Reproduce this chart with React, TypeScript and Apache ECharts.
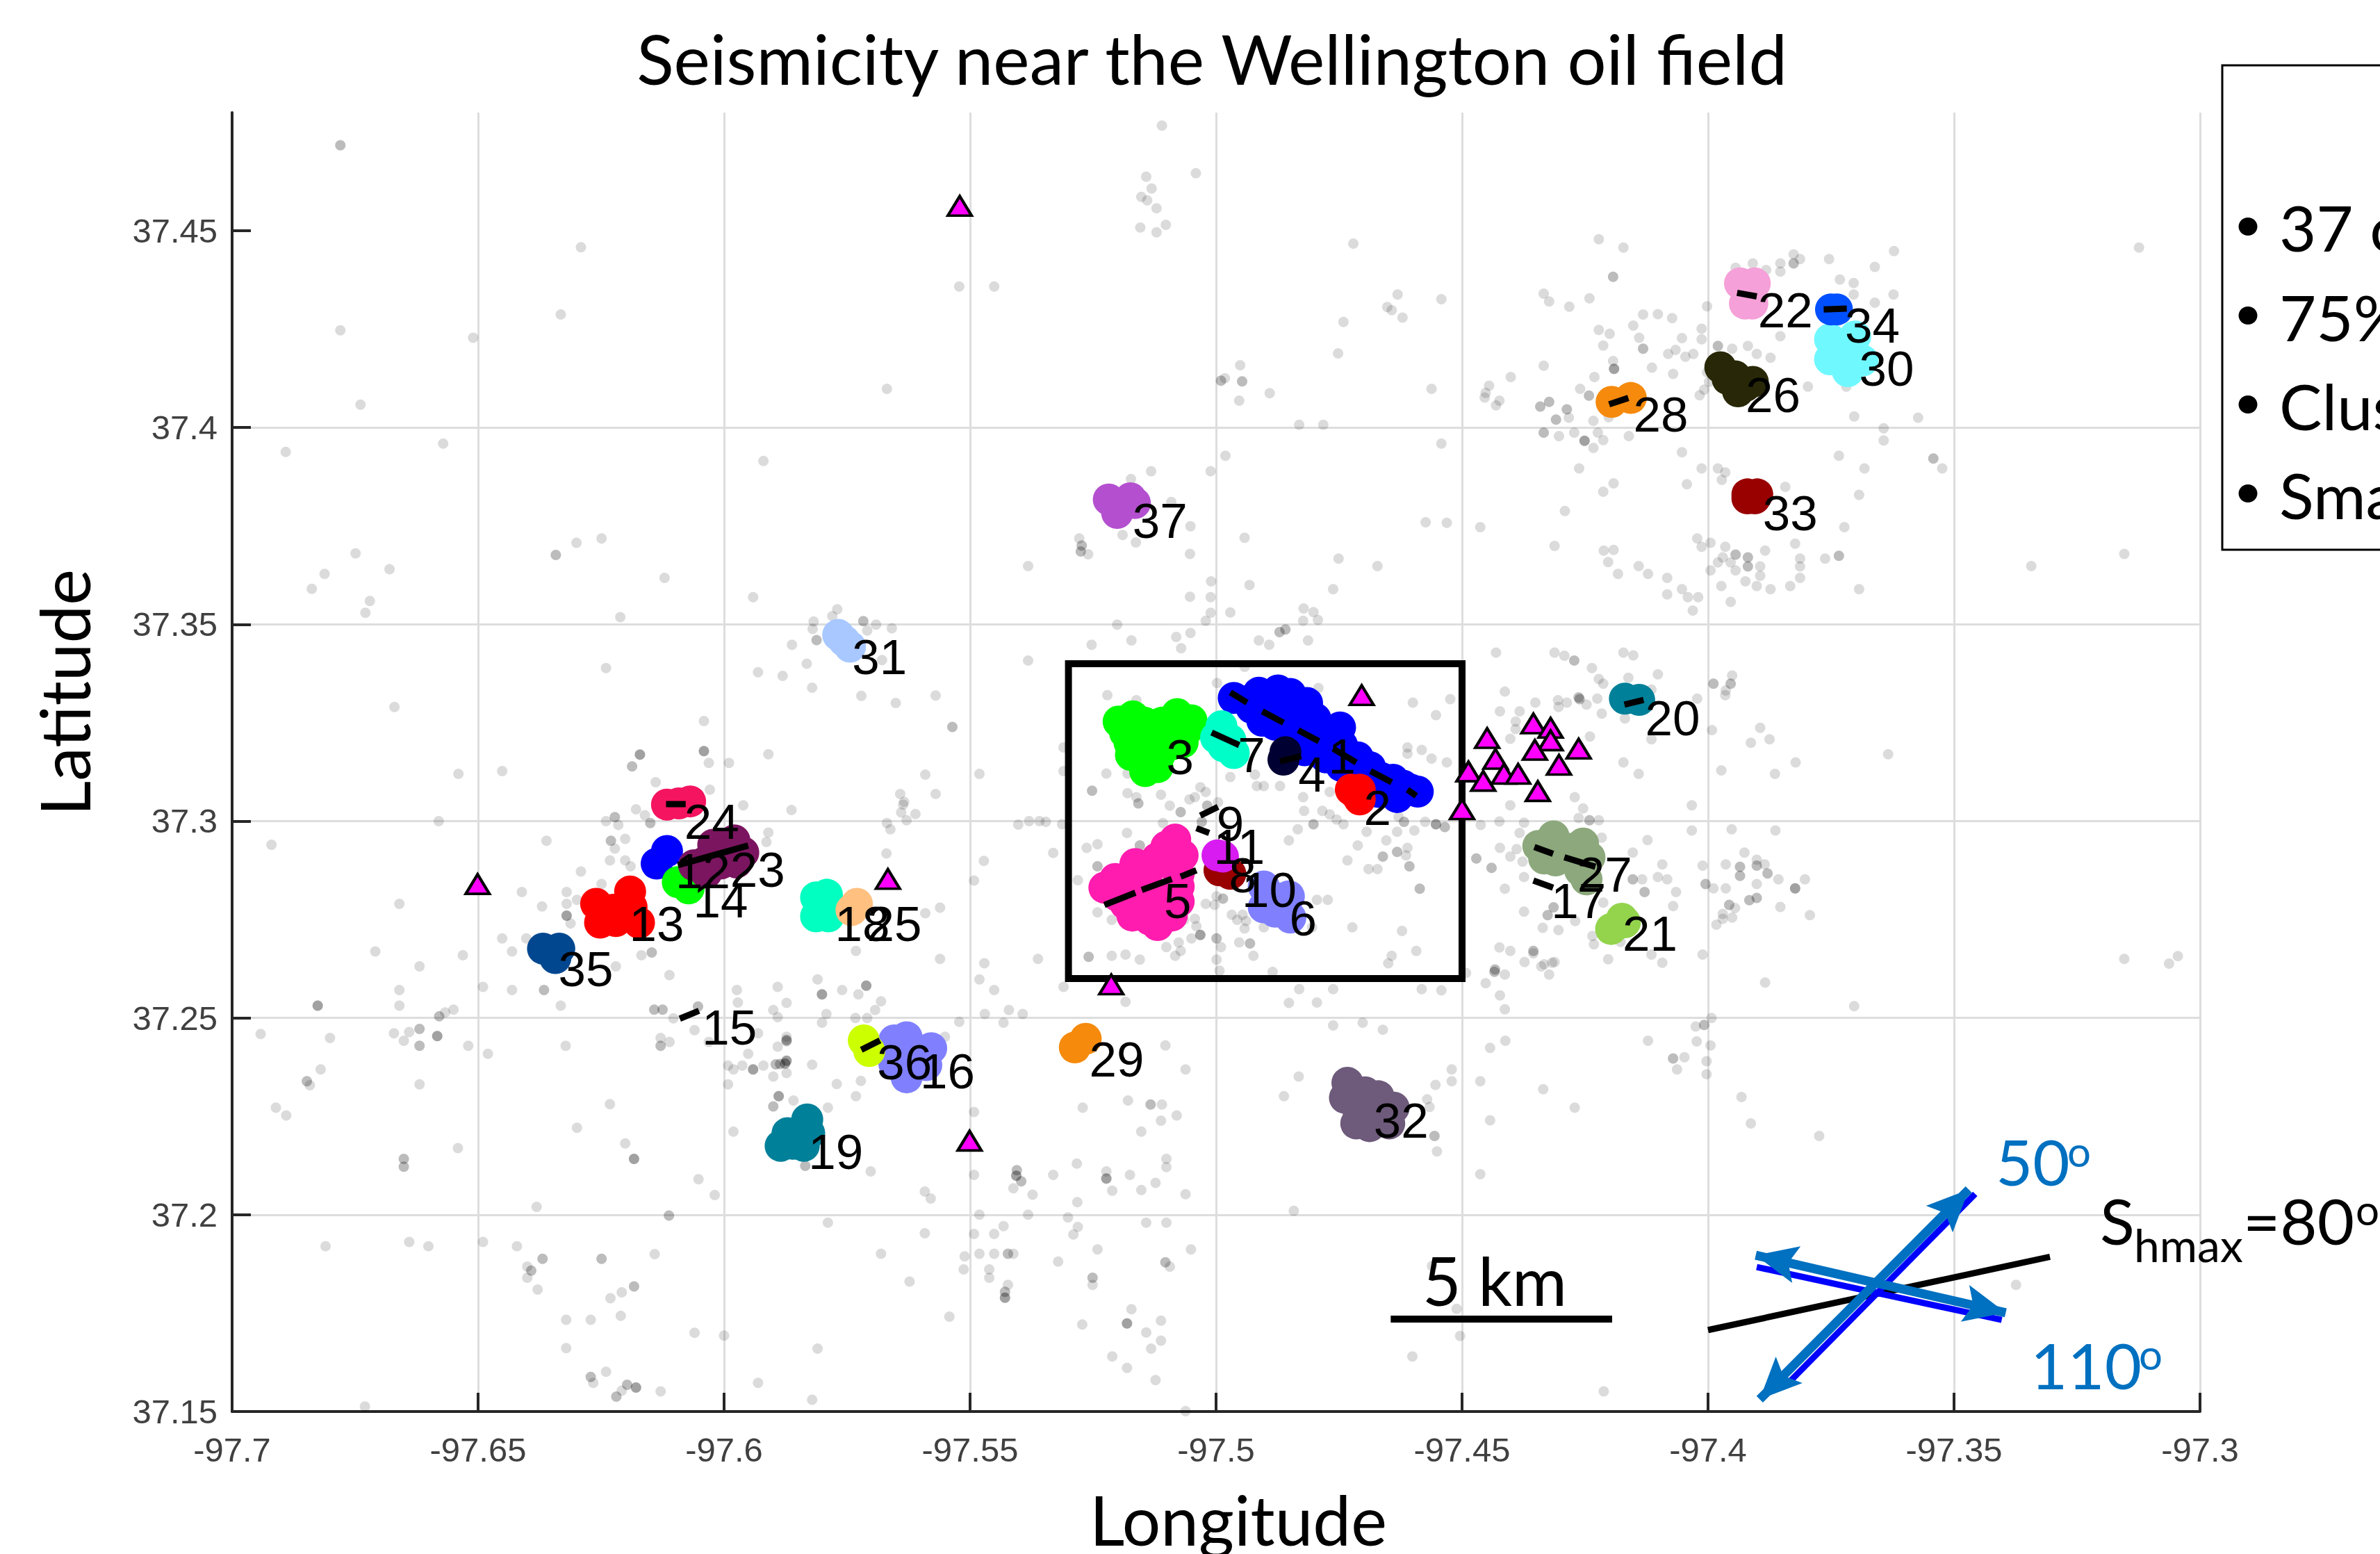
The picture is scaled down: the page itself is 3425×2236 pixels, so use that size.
import React, { useEffect, useRef } from "react";
import * as echarts from "echarts";

const latTicks = [37.15, 37.2, 37.25, 37.3, 37.35, 37.4, 37.45];
const lonMin = -97.7, lonMax = -97.3, latMin = 37.15, latMax = 37.48;

// background seismicity (lon, lat)
const eventsOnce: number[][] = [
[-97.6291,37.4458],[-97.6332,37.4287],[-97.678,37.4247],[-97.651,37.4228],[-97.5522,37.4358],[-97.5451,37.4358],[-97.6739,37.4058],[-97.5669,37.4098],[-97.6571,37.3959],[-97.6891,37.3938],[-97.592,37.3915],[-97.6749,37.368],[-97.6812,37.3628],[-97.668,37.364],[-97.6838,37.359],[-97.672,37.3559],[-97.6729,37.3529],[-97.63,37.3707],[-97.6249,37.3718],[-97.6121,37.3618],[-97.6211,37.3518],[-97.5941,37.3569],[-97.5818,37.3507],[-97.577,37.3538],[-97.578,37.3521],[-97.5691,37.3499],[-97.5659,37.349],[-97.582,37.3488],[-97.5862,37.3448],[-97.5709,37.3484],[-97.5679,37.3409],[-97.5832,37.34],[-97.5931,37.3378],[-97.5881,37.3369],[-97.5821,37.3339],[-97.5721,37.3318],[-97.5651,37.33],[-97.557,37.3319],[-97.624,37.3389],[-97.667,37.329],[-97.6041,37.3254],[-97.6031,37.3148],[-97.599,37.3148],[-97.591,37.317],[-97.654,37.312],[-97.6451,37.3127],[-97.6139,37.3099],[-97.6029,37.308],[-97.5591,37.3118],[-97.5481,37.312],[-97.5642,37.3069],[-97.557,37.3069],[-97.5634,37.3049],
[-97.511,37.4767],[-97.5041,37.4646],[-97.5142,37.4637],[-97.5131,37.4607],[-97.5152,37.4586],[-97.514,37.4577],[-97.5121,37.4557],[-97.5154,37.4508],[-97.5121,37.4496],[-97.5102,37.4515],[-97.4721,37.4467],[-97.545,37.4358],[-97.4631,37.4338],[-97.4542,37.4326],[-97.4652,37.4306],[-97.4643,37.4298],[-97.4621,37.4279],[-97.4741,37.4268],[-97.4752,37.4188],[-97.4951,37.4158],[-97.4982,37.4125],[-97.4891,37.4087],[-97.4953,37.4068],[-97.4831,37.4007],[-97.4782,37.4007],[-97.4542,37.3959],[-97.4981,37.3928],[-97.5011,37.3889],[-97.5132,37.3889],[-97.5173,37.3869],[-97.5091,37.3811],[-97.5052,37.3749],[-97.519,37.3727],[-97.5163,37.3708],[-97.4942,37.372],[-97.5278,37.3718],[-97.526,37.3678],[-97.5053,37.3679],[-97.5382,37.3648],[-97.4574,37.3759],[-97.4531,37.3758],[-97.4463,37.3747],[-97.4751,37.3667],[-97.4672,37.3648],[-97.4932,37.36],[-97.501,37.3609],[-97.4762,37.3589],[-97.5011,37.3569],[-97.5053,37.357],[-97.5011,37.3529],[-97.4971,37.353],[-97.5021,37.3509],[-97.4822,37.354],[-97.4802,37.3531],[-97.4823,37.3509],[-97.4793,37.3511],[-97.5201,37.3499],[-97.5172,37.3459],[-97.5253,37.3448],[-97.5081,37.3468],[-97.5052,37.3478],[-97.5071,37.3439],[-97.4859,37.3489],[-97.4913,37.3459],[-97.4892,37.3448],[-97.4813,37.3459],[-97.5382,37.3408],
[-97.4222,37.4478],[-97.4172,37.4457],[-97.4334,37.434],[-97.4323,37.432],[-97.4282,37.4307],[-97.4241,37.4328],[-97.4132,37.4287],[-97.4102,37.4288],[-97.4152,37.4259],[-97.4222,37.4248],[-97.42,37.4238],[-97.414,37.4228],[-97.4213,37.4208],[-97.4334,37.4157],[-97.4193,37.4169],[-97.4114,37.4152],[-97.4231,37.4128],[-97.4401,37.4128],[-97.4562,37.4098],[-97.4445,37.4106],[-97.4452,37.4088],[-97.4454,37.4076],[-97.4424,37.4068],[-97.4431,37.4056],[-97.426,37.4098],[-97.4283,37.4025],[-97.4233,37.4017],[-97.4202,37.4026],[-97.4303,37.3978],[-97.4272,37.3987],[-97.4224,37.3987],[-97.4213,37.3968],[-97.4233,37.3948],[-97.4161,37.3978],[-97.4262,37.3896],[-97.4192,37.3858],[-97.4213,37.3837],[-97.4291,37.3788],[-97.4312,37.3699],[-97.4212,37.3687],[-97.4192,37.3689],[-97.4203,37.3658],[-97.4141,37.3648],[-97.4122,37.3628],[-97.4183,37.3628],[-97.4431,37.3428],[-97.4312,37.3428],[-97.4292,37.342],[-97.4172,37.3428],[-97.4152,37.3421],
[-97.3622,37.4448],[-97.3909,37.4417],[-97.3826,37.444],[-97.3813,37.4428],[-97.3853,37.4417],[-97.3853,37.4396],[-97.3882,37.44],[-97.3754,37.4428],[-97.3661,37.4408],[-97.3944,37.4406],[-97.3732,37.4376],[-97.3704,37.4367],[-97.3623,37.4338],[-97.3704,37.4338],[-97.3661,37.4317],[-97.4002,37.4308],[-97.4103,37.4287],[-97.4073,37.4278],[-97.4013,37.4251],[-97.4053,37.4227],[-97.3853,37.4232],[-97.4013,37.4224],[-97.3919,37.4207],[-97.3951,37.42],[-97.4066,37.4197],[-97.4081,37.4187],[-97.4046,37.418],[-97.403,37.4187],[-97.3901,37.4187],[-97.3873,37.4177],[-97.4115,37.4153],[-97.4071,37.4136],[-97.4002,37.414],[-97.3998,37.4116],[-97.4008,37.4096],[-97.4017,37.4082],[-97.3797,37.4104],[-97.3719,37.4104],[-97.3703,37.4028],[-97.3573,37.4025],[-97.3643,37.3998],[-97.3643,37.3967],[-97.4053,37.3937],[-97.3734,37.3928],[-97.4013,37.3896],[-97.398,37.3896],[-97.3965,37.3886],[-97.3682,37.3896],[-97.3524,37.3896],[-97.3972,37.3867],[-97.3843,37.3849],[-97.4043,37.3856],[-97.3693,37.3829],[-97.3723,37.3747],[-97.4022,37.3718],[-97.3995,37.3707],[-97.4013,37.3697],[-97.3965,37.3697],[-97.3823,37.3705],[-97.3884,37.3687],[-97.397,37.367],[-97.398,37.3657],[-97.3954,37.3657],[-97.3894,37.3647],[-97.3813,37.3667],[-97.3813,37.3647],[-97.3762,37.3667],[-97.3995,37.3637],[-97.3944,37.3637],[-97.3894,37.3623],[-97.3924,37.3609],[-97.3973,37.3597],[-97.3901,37.3597],[-97.3873,37.3589],[-97.3833,37.3597],[-97.3813,37.3618],[-97.3693,37.3589],[-97.4083,37.3618],[-97.4083,37.3576],[-97.4053,37.3589],[-97.4041,37.3569],[-97.402,37.3569],[-97.4031,37.3535],[-97.3954,37.3557],[-97.3124,37.4457],[-97.3343,37.3648],[-97.3154,37.3679],
[-97.5199,37.3493],[-97.5252,37.3449],[-97.5173,37.3458],[-97.5083,37.3468],[-97.4942,37.3392],[-97.4998,37.3351],[-97.5221,37.332],[-97.5162,37.3307],[-97.4792,37.3338],[-97.4413,37.3329],[-97.46,37.3301],[-97.4524,37.331],[-97.4553,37.3269],[-97.4351,37.3301],[-97.4423,37.3279],[-97.4402,37.3209],[-97.4391,37.3253],[-97.4391,37.3234],[-97.4287,37.3301],[-97.4305,37.3307],[-97.4236,37.3389],[-97.424,37.3215],[-97.531,37.3187],[-97.4611,37.3187],[-97.4582,37.3181],[-97.4611,37.3171],[-97.4562,37.3159],[-97.4531,37.3149],[-97.5223,37.3121],[-97.518,37.3121],[-97.4921,37.3118],[-97.4917,37.3089],[-97.4903,37.3089],[-97.487,37.3089],[-97.4971,37.3112],[-97.518,37.3071],[-97.5162,37.3061],[-97.5112,37.3067],[-97.531,37.3127],[-97.5032,37.3086],[-97.5021,37.3074],[-97.5043,37.3061],[-97.5054,37.3055],[-97.5094,37.3039],[-97.4996,37.3048],[-97.5108,37.2995],[-97.5346,37.2998],[-97.5313,37.2992],[-97.4823,37.3061],[-97.4821,37.3026],[-97.4769,37.3074],[-97.4784,37.3026],[-97.4769,37.3017],[-97.4755,37.3004],[-97.4834,37.2979],[-97.4852,37.2951],[-97.4741,37.2992],[-97.4694,37.2973],[-97.4629,37.3011],[-97.4575,37.2998],[-97.4597,37.2976],[-97.4632,37.2973],[-97.4654,37.2951],[-97.4712,37.2938],[-97.4733,37.29],[-97.4611,37.2932],[-97.4614,37.2913],[-97.469,37.2878],[-97.4672,37.2878],[-97.447,37.291],[-97.4438,37.2881],[-97.4402,37.291],[-97.4423,37.2932],[-97.4377,37.2897],[-97.4413,37.2828],[-97.5331,37.2919],[-97.5263,37.2932],[-97.5241,37.2941],[-97.5181,37.297],[-97.5281,37.285],[-97.4999,37.2809],[-97.5021,37.279],[-97.5003,37.2787],[-97.5241,37.2768],[-97.5212,37.2749],[-97.5166,37.2736],[-97.5043,37.2752],[-97.5065,37.2749],[-97.504,37.2733],[-97.4968,37.2762],[-97.4946,37.2762],[-97.4957,37.2749],[-97.4939,37.2746],[-97.4903,37.273],[-97.4942,37.2727],[-97.4795,37.28],[-97.4773,37.28],[-97.4805,37.273],[-97.4723,37.273],[-97.4622,37.2721],[-97.505,37.2702],[-97.5076,37.2692],[-97.5101,37.268],[-97.5072,37.267],[-97.499,37.268],[-97.5083,37.2658],[-97.4953,37.2692],[-97.4924,37.2658],[-97.5212,37.2658],[-97.5184,37.2661],[-97.5155,37.2648],[-97.4999,37.2648],[-97.4643,37.2658],[-97.465,37.2639],[-97.4593,37.267],[-97.4452,37.2588],[-97.4413,37.261],[-97.4373,37.2642],[-97.4355,37.2664],[-97.4333,37.2636],[-97.4312,37.2642],[-97.4323,37.261],[-97.4423,37.2557],[-97.4413,37.2522],[-97.4492,37.2614],[-97.5184,37.2541],[-97.531,37.2579],[-97.4852,37.2538],[-97.4795,37.2539],[-97.4762,37.2573],[-97.4542,37.257],[-97.4582,37.2573],[-97.4885,37.2617],[-97.4993,37.262],[-97.4831,37.2573],
[-97.3951,37.337],[-97.3964,37.3332],[-97.3965,37.332],[-97.4022,37.3311],[-97.4102,37.3373],[-97.4162,37.3364],[-97.4222,37.3361],[-97.4213,37.3349],[-97.4115,37.3334],[-97.4288,37.3305],[-97.4247,37.3296],[-97.4304,37.329],[-97.4225,37.3311],[-97.4216,37.3273],[-97.4169,37.3261],[-97.4115,37.3208],[-97.4241,37.322],[-97.4383,37.3279],[-97.4392,37.3252],[-97.4172,37.3149],[-97.4141,37.312],[-97.4271,37.3061],[-97.4402,37.304],[-97.4033,37.304],[-97.3894,37.3237],[-97.3875,37.3208],[-97.3913,37.3199],[-97.3992,37.3231],[-97.3634,37.317],[-97.3822,37.3149],[-97.3973,37.3129],[-97.3864,37.312],[-97.4254,37.3032],[-97.4263,37.3008],[-97.4222,37.3002],[-97.4462,37.299],[-97.4424,37.2999],[-97.4374,37.2996],[-97.4033,37.2976],[-97.3952,37.2979],[-97.3863,37.2976],[-97.4383,37.297],[-97.4216,37.2958],[-97.4123,37.2952],[-97.4424,37.2931],[-97.4153,37.292],[-97.4389,37.2929],[-97.4402,37.2908],[-97.4093,37.289],[-97.4374,37.2858],[-97.4411,37.2829],[-97.4134,37.2852],[-97.4102,37.2858],[-97.4083,37.2852],[-97.4011,37.2887],[-97.3964,37.289],[-97.3926,37.292],[-97.3901,37.2902],[-97.3885,37.289],[-97.3857,37.2852],[-97.3803,37.2852],[-97.3901,37.284],[-97.3989,37.2829],[-97.3964,37.2829],[-97.3945,37.2779],[-97.397,37.2764],[-97.3951,37.2755],[-97.397,37.2752],[-97.3983,37.2737],[-97.3853,37.2782],[-97.3793,37.2761],[-97.4065,37.282],[-97.4071,37.2784],[-97.4213,37.2793],[-97.4374,37.277],[-97.427,37.2746],[-97.4336,37.2729],[-97.4304,37.2723],[-97.4235,37.2708],[-97.4178,37.2693],[-97.4232,37.2687],[-97.4424,37.2679],[-97.4402,37.267],[-97.4374,37.2643],[-97.4317,37.264],[-97.4339,37.2631],[-97.4203,37.2649],[-97.4115,37.2661],[-97.4093,37.264],[-97.4011,37.2661],
[-97.3884,37.259],[-97.3154,37.265],[-97.3063,37.2638],[-97.3045,37.2657],[-97.3703,37.253],[-97.4453,37.259],[-97.4543,37.2571],[-97.4422,37.2558],[-97.4412,37.2519],[-97.3993,37.25],[-97.4025,37.2478],[-97.4412,37.2442],[-97.4443,37.2424],[-97.4122,37.2442],[-97.4023,37.244],[-97.3995,37.243],[-97.4048,37.24],[-97.4063,37.2369],[-97.4003,37.239],[-97.4003,37.2357],[-97.4521,37.2369],[-97.4521,37.2339],[-97.4554,37.233],[-97.4463,37.2339],[-97.4335,37.2319],[-97.4271,37.2272],[-97.3932,37.2299],[-97.3913,37.2232],[-97.4443,37.224],[-97.3774,37.22],[-97.4551,37.2161],[-97.4463,37.2103],[-97.4566,37.2274],[-97.3374,37.1822],[-97.4511,37.1761],[-97.4504,37.1692],[-97.4212,37.1551],[-97.4561,37.187],
[-97.581,37.2598],[-97.576,37.2571],[-97.5727,37.256],[-97.5891,37.2579],[-97.5873,37.2538],[-97.5681,37.2542],[-97.5693,37.252],[-97.59,37.252],[-97.5891,37.2502],[-97.5792,37.251],[-97.5801,37.2488],[-97.5733,37.25],[-97.5709,37.25],[-97.5522,37.249],[-97.5481,37.2598],[-97.5451,37.2571],[-97.547,37.251],[-97.5421,37.252],[-97.5393,37.251],[-97.5432,37.2488],[-97.5182,37.2538],[-97.4851,37.2538],[-97.4792,37.2538],[-97.4762,37.2481],[-97.4702,37.2488],[-97.4661,37.247],[-97.5551,37.2452],[-97.5873,37.2452],[-97.5891,37.2427],[-97.5103,37.243],[-97.5821,37.2381],[-97.59,37.2351],[-97.5873,37.236],[-97.5771,37.2332],[-97.5722,37.234],[-97.5062,37.2369],[-97.4832,37.2351],[-97.4522,37.234],[-97.4553,37.2331],[-97.4862,37.2301],[-97.4571,37.2293],[-97.4562,37.2272],[-97.5732,37.2301],[-97.5859,37.229],[-97.5789,37.2272],[-97.5492,37.2261],[-97.5179,37.229],[-97.5271,37.2272],[-97.511,37.228],[-97.5112,37.2239],[-97.508,37.2252],[-97.5152,37.2211],[-97.4553,37.2162],[-97.5702,37.211],[-97.5492,37.2101],[-97.5412,37.2067],[-97.5331,37.2101],[-97.5283,37.213],[-97.5223,37.211],[-97.5175,37.2101],[-97.5101,37.2142],[-97.5101,37.2121],[-97.5123,37.2081],[-97.5152,37.2063],[-97.5062,37.2052],[-97.5211,37.2061],[-97.5373,37.2051],[-97.5592,37.2059],[-97.558,37.2041],[-97.5282,37.2032],[-97.4842,37.201],[-97.5481,37.2],[-97.5382,37.2],[-97.5301,37.1993],[-97.5789,37.198],[-97.5142,37.198],[-97.5101,37.198],[-97.5281,37.1969],[-97.5432,37.1971],[-97.529,37.195],[-97.5592,37.1953],[-97.5492,37.1951],[-97.5451,37.1951],[-97.5051,37.1912],[-97.5241,37.1912],[-97.5681,37.1901],[-97.5511,37.1894],[-97.5481,37.1901],[-97.5451,37.1901],[-97.5412,37.1901],[-97.5321,37.1881],[-97.5094,37.1868],[-97.5513,37.1861],[-97.5461,37.1861],[-97.5461,37.184],[-97.5251,37.1822],[-97.5623,37.183],[-97.5423,37.1822],[-97.5542,37.1741],[-97.5172,37.176],[-97.5112,37.1731],[-97.5272,37.1721],[-97.5142,37.1701],[-97.5112,37.168],[-97.5132,37.166],[-97.581,37.166],[-97.5211,37.164],[-97.5181,37.1611],[-97.5123,37.158],[-97.5821,37.153],[-97.5062,37.1501],[-97.4601,37.164],[-97.4513,37.1763],[-97.4508,37.1688],
[-97.658,37.3],[-97.692,37.294],[-97.6361,37.295],[-97.624,37.3],[-97.6215,37.299],[-97.6179,37.303],[-97.6161,37.3015],[-97.6201,37.2955],[-97.6222,37.293],[-97.6232,37.29],[-97.6201,37.29],[-97.619,37.2885],[-97.6291,37.2872],[-97.6249,37.284],[-97.632,37.282],[-97.6411,37.282],[-97.637,37.2783],[-97.632,37.279],[-97.6299,37.28],[-97.6312,37.274],[-97.666,37.279],[-97.6709,37.2669],[-97.6531,37.2659],[-97.6619,37.2631],[-97.6451,37.2702],[-97.6431,37.2669],[-97.6402,37.2702],[-97.6168,37.2659],[-97.622,37.2631],[-97.6111,37.2609],[-97.666,37.2571],[-97.649,37.2579],[-97.6431,37.2571],[-97.666,37.2531],[-97.6332,37.2531],[-97.655,37.2521],[-97.6567,37.2514],[-97.6103,37.2499],[-97.6942,37.2459],[-97.6801,37.2449],[-97.6671,37.2461],[-97.664,37.2464],[-97.6651,37.2442],[-97.652,37.2429],[-97.648,37.2409],[-97.6322,37.2429],[-97.6129,37.2449],[-97.6111,37.2439],[-97.606,37.2469],[-97.6031,37.2439],[-97.5974,37.2571],[-97.5972,37.2539],[-97.5889,37.2579],[-97.5898,37.2519],[-97.5931,37.2461],[-97.5889,37.2429],[-97.5951,37.2409],[-97.5992,37.2379],[-97.5981,37.2369],[-97.5963,37.2379],[-97.592,37.2379],[-97.5876,37.2359],[-97.59,37.2349],[-97.5992,37.2331],[-97.682,37.2369],[-97.6842,37.2329],[-97.6619,37.2331],[-97.6911,37.2272],[-97.689,37.2252],[-97.6232,37.2281],[-97.6299,37.2221],[-97.6201,37.2181],[-97.5981,37.2211],[-97.6541,37.2169],[-97.6052,37.209],[-97.6019,37.205],[-97.6381,37.202],[-97.649,37.1931],[-97.681,37.192],[-97.664,37.1931],[-97.6601,37.192],[-97.6421,37.192],[-97.64,37.1868],[-97.64,37.184],[-97.6379,37.181],[-97.6141,37.19],[-97.6208,37.1803],[-97.6231,37.1788],[-97.621,37.1743],[-97.6321,37.1733],[-97.6271,37.1733],[-97.606,37.17],[-97.6,37.1693],[-97.6321,37.1661],[-97.6266,37.1573],[-97.624,37.1601],[-97.6208,37.1553],[-97.6129,37.1551],[-97.5931,37.1573],[-97.673,37.1513],
[-97.5636,37.3042],[-97.5611,37.3018],[-97.564,37.3022],[-97.5669,37.2995],[-97.5662,37.2979],[-97.5629,37.3002],[-97.5402,37.2991],[-97.538,37.3],[-97.5359,37.3],[-97.5863,37.3028],[-97.5961,37.304],[-97.591,37.2971],[-97.5914,37.2947],[-97.567,37.2918],[-97.5472,37.2899],[-97.5492,37.2849],[-97.5591,37.2766],[-97.5561,37.278],[-97.5732,37.267],[-97.5561,37.265],[-97.5471,37.2639],[-97.5481,37.2601],[-97.545,37.2571],[-97.5362,37.265],[-97.5471,37.2508],[-97.5424,37.2518],[-97.5391,37.2508],[-97.573,37.2506]
];
const eventsTwice: number[][] = [
[-97.678,37.4717],[-97.6342,37.3676],[-97.5717,37.3508],[-97.5812,37.346],[-97.5536,37.3239],[-97.6187,37.3139],
[-97.499,37.4119],[-97.4947,37.4117],[-97.5273,37.37],[-97.5275,37.3685],[-97.4871,37.348],[-97.4272,37.3408],[-97.4193,37.4383],[-97.4132,37.42],[-97.4242,37.4081],[-97.4323,37.4065],[-97.4341,37.4053],[-97.4287,37.4046],[-97.4309,37.402],[-97.4334,37.3987],
[-97.3826,37.4417],[-97.398,37.4207],[-97.3542,37.3921],[-97.3944,37.3677],[-97.3919,37.367],[-97.3919,37.3647],[-97.3734,37.3674],
[-97.4859,37.3487],[-97.4261,37.331],[-97.5252,37.3077],[-97.5158,37.3045],[-97.5072,37.3023],[-97.5018,37.3039],[-97.5029,37.2998],[-97.4618,37.2998],[-97.4535,37.2985],[-97.4802,37.2992],[-97.4632,37.2922],[-97.4661,37.291],[-97.4607,37.2885],[-97.4586,37.2828],[-97.5155,37.2938],[-97.5241,37.2885],[-97.4986,37.2803],[-97.4999,37.2702],[-97.4931,37.2689],[-97.5259,37.2655],[-97.4434,37.2617],
[-97.3954,37.3349],[-97.3989,37.3349],[-97.4263,37.3314],[-97.4241,37.3002],[-97.4471,37.2905],[-97.444,37.2881],[-97.4153,37.2852],[-97.3935,37.2884],[-97.3901,37.2887],[-97.3935,37.2861],[-97.3879,37.2867],[-97.4005,37.284],[-97.3901,37.2805],[-97.3916,37.2799],[-97.3957,37.2787],[-97.4129,37.282],[-97.4314,37.2781],[-97.4326,37.2761],[-97.4355,37.267],[-97.4433,37.2623],
[-97.4008,37.2482],[-97.4071,37.2397],[-97.4556,37.22],
[-97.5873,37.2441],[-97.5886,37.2383],[-97.59,37.2275],[-97.5133,37.228],[-97.5835,37.2124],[-97.5405,37.2113],[-97.5396,37.2085],[-97.5103,37.1879],[-97.5423,37.1901],[-97.5251,37.184],[-97.5429,37.1804],
[-97.6222,37.301],[-97.615,37.2995],[-97.623,37.295],[-97.6147,37.2666],[-97.6366,37.2571],[-97.6579,37.2504],[-97.6142,37.2521],[-97.6125,37.2521],[-97.6053,37.2529],[-97.6619,37.2472],[-97.6619,37.2429],[-97.6129,37.2429],[-97.5873,37.2444],[-97.5895,37.2382],[-97.6848,37.2339],[-97.6651,37.2142],[-97.6651,37.2122],[-97.6112,37.1998],[-97.6369,37.1888],[-97.6392,37.1858],[-97.6249,37.1888],[-97.6183,37.1818],[-97.6271,37.1588],[-97.6197,37.1568],[-97.6219,37.1538]
];
const eventsThrice: number[][] = [
[-97.6041,37.3178],[-97.6171,37.3169],[-97.4191,37.4149],[-97.4251,37.3966],[-97.4553,37.2992],[-97.5032,37.2711],[-97.3823,37.2829],
[-97.5711,37.2582],[-97.5801,37.256],[-97.5873,37.2391],[-97.5889,37.2301],[-97.5406,37.2099],[-97.5223,37.2092],[-97.5429,37.1789],[-97.5181,37.1724],
[-97.632,37.276],[-97.6826,37.2531],[-97.6583,37.2454],[-97.5941,37.2369],[-97.5876,37.2384],[-97.6183,37.2142],[-97.6179,37.1561]
];

// one list per numbered cluster: epicentres
const c1 = [[-97.4964,37.3313],[-97.4913,37.3326],[-97.4874,37.3332],[-97.4849,37.3323],[-97.4877,37.3288],[-97.4928,37.3288],[-97.4834,37.3279],[-97.4798,37.326],[-97.4748,37.3238],[-97.4856,37.3244],[-97.4791,37.3212],[-97.4744,37.3193],[-97.4777,37.3162],[-97.4712,37.3162],[-97.4687,37.3137],[-97.464,37.3105],[-97.4604,37.308],[-97.4632,37.3061],[-97.4669,37.3074],[-97.4938,37.3305],[-97.49,37.3305],[-97.486,37.3305],[-97.4815,37.33],[-97.4906,37.3255],[-97.488,37.3245],[-97.4825,37.3245],[-97.479,37.3235],[-97.484,37.3215],[-97.482,37.318],[-97.476,37.3215],[-97.477,37.3185],[-97.474,37.3165],[-97.4745,37.314],[-97.47,37.3135],[-97.4665,37.311],[-97.462,37.309],[-97.459,37.3075],[-97.465,37.3085]];
const c2 = [[-97.4726,37.308],[-97.4708,37.308],[-97.4708,37.3055],[-97.4715,37.3068]];
const c3 = [[-97.5198,37.3253],[-97.5169,37.3266],[-97.5079,37.3272],[-97.505,37.3256],[-97.5137,37.3231],[-97.5079,37.3219],[-97.5176,37.32],[-97.5068,37.32],[-97.5144,37.3127],[-97.5119,37.3137],[-97.5173,37.3168],[-97.5115,37.3168],[-97.5145,37.325],[-97.511,37.325],[-97.515,37.32],[-97.511,37.3195],[-97.5145,37.3165],[-97.509,37.3195],[-97.5185,37.3225],[-97.506,37.323]];
const c4 = [[-97.4859,37.3175],[-97.4863,37.3156]];
const c5 = [[-97.5083,37.2953],[-97.5101,37.2935],[-97.5164,37.2891],[-97.5068,37.2913],[-97.5205,37.2853],[-97.5227,37.2831],[-97.5137,37.2875],[-97.5076,37.2866],[-97.5184,37.279],[-97.5076,37.2796],[-97.5119,37.2736],[-97.5115,37.2771],[-97.5137,37.2822],[-97.5076,37.2834],[-97.515,37.285],[-97.512,37.2905],[-97.5095,37.29],[-97.5185,37.285],[-97.52,37.281],[-97.515,37.279],[-97.511,37.281],[-97.5135,37.275],[-97.509,37.276],[-97.517,37.276]];
const c6 = [[-97.4849,37.2755],[-97.4852,37.2809],[-97.488,37.277]];
const c7 = [[-97.4989,37.3241],[-97.5,37.3212],[-97.4971,37.3206],[-97.4964,37.3173],[-97.4985,37.319]];
const c8 = [[-97.4993,37.2875],[-97.4971,37.2866]];
const c10 = [[-97.4903,37.2834],[-97.4903,37.2781],[-97.488,37.2805]];
const c11 = [[-97.4997,37.2913],[-97.4986,37.291]];
const c12 = [[-97.6116,37.2924],[-97.6137,37.2892]];
const c13 = [[-97.626,37.279],[-97.6191,37.2821],[-97.6252,37.2742],[-97.6188,37.2782],[-97.6173,37.2742],[-97.622,37.2746],[-97.6225,37.2775],[-97.6205,37.276]];
const c14 = [[-97.6094,37.2845],[-97.6072,37.2829]];
const c16 = [[-97.5654,37.2443],[-97.5629,37.2451],[-97.5579,37.2423],[-97.5654,37.2384],[-97.5629,37.2349],[-97.5589,37.238],[-97.562,37.241],[-97.559,37.241],[-97.5635,37.239],[-97.5605,37.2385]];
const c18 = [[-97.5813,37.2806],[-97.5791,37.2813],[-97.5813,37.2758],[-97.5788,37.2758],[-97.58,37.2785]];
const c19 = [[-97.5831,37.2242],[-97.5871,37.2207],[-97.5885,37.2175],[-97.5838,37.2175],[-97.5827,37.2207],[-97.585,37.2195],[-97.586,37.218]];
const c20 = [[-97.4169,37.3311],[-97.414,37.3308]];
const c21 = [[-97.4175,37.2752],[-97.4197,37.2726],[-97.4169,37.2743]];
const c22 = [[-97.3935,37.4366],[-97.3905,37.4366],[-97.3925,37.4315],[-97.391,37.4315],[-97.3919,37.434]];
const c23 = [[-97.5979,37.2951],[-97.6022,37.294],[-97.5961,37.292],[-97.6061,37.2888],[-97.6007,37.2892],[-97.6036,37.2869],[-97.5995,37.292],[-97.604,37.2895],[-97.5975,37.2895]];
const c24 = [[-97.6116,37.3042],[-97.6069,37.305],[-97.6092,37.3045]];
const c25 = [[-97.573,37.279],[-97.5741,37.2774]];
const c26 = [[-97.3975,37.4153],[-97.3909,37.4116],[-97.3939,37.4092],[-97.396,37.4123],[-97.3945,37.413],[-97.3925,37.4105]];
const c27 = [[-97.4314,37.2961],[-97.4254,37.2943],[-97.4345,37.2937],[-97.4241,37.2908],[-97.4333,37.2905],[-97.4273,37.2902],[-97.4247,37.2852],[-97.43,37.293],[-97.4275,37.293],[-97.431,37.29],[-97.426,37.2875]];
const c28 = [[-97.4196,37.4065],[-97.4157,37.4075]];
const c29 = [[-97.5287,37.2425],[-97.5265,37.2447]];
const c30 = [[-97.3752,37.4224],[-97.3701,37.4231],[-97.3752,37.4173],[-97.3686,37.417],[-97.3716,37.4143],[-97.3725,37.4195]];
const c31 = [[-97.5768,37.3473],[-97.5744,37.3443],[-97.5756,37.3458]];
const c32 = [[-97.4733,37.2335],[-97.4738,37.2297],[-97.4697,37.2311],[-97.467,37.2301],[-97.4639,37.2272],[-97.4715,37.2232],[-97.4688,37.2225],[-97.4648,37.2232],[-97.4711,37.2268],[-97.467,37.2261],[-97.47,37.228],[-97.471,37.225]];
const c33 = [[-97.392,37.383],[-97.39,37.383],[-97.392,37.382],[-97.3905,37.382]];
const c34 = [[-97.375,37.43],[-97.3738,37.43]];
const c35 = [[-97.6368,37.2676],[-97.6335,37.2676],[-97.6343,37.2652]];
const c36 = [[-97.5716,37.2443],[-97.5705,37.2416]];
const c37 = [[-97.5218,37.3817],[-97.5174,37.382],[-97.5201,37.3783],[-97.5165,37.3808]];

const clusterPoints = [c1,c2,c3,c4,c5,c6,c7,c8,c10,c11,c12,c13,c14,c16,c18,c19,c20,c21,c22,c23,c24,c25,c26,c27,c28,c29,c30,c31,c32,c33,c34,c35,c36,c37];
const clusterColors = ["#0000FF","#FF0000","#00FF00","#000033","#FF1CAE","#8080FF","#00FFC8","#990000","#8080FF","#D81BF0","#0000FF","#FF0000","#00FF00","#8080FF","#00FFC0","#008099","#008099","#93D44C","#F5A0D8","#7B1560","#F5145F","#FFC080","#282808","#8CA87C","#F58A0C","#F58A0C","#70F8FF","#A8C8FF","#6E5A7A","#990000","#0050FF","#004790","#CCFF00","#B450D0"];

// cluster number labels: [lon, lat, text]
const clusterLabels: (number | string)[][] = [
[-97.4744,37.3165,"1"],[-97.4672,37.3033,"2"],[-97.5073,37.3162,"3"],[-97.4805,37.3118,"4"],[-97.5078,37.2796,"5"],[-97.4823,37.2752,"6"],[-97.4928,37.3168,"7"],[-97.4946,37.2863,"8"],[-97.4971,37.2992,"9"],[-97.4892,37.2825,"10"],[-97.4953,37.2935,"11"],[-97.6043,37.2872,"12"],[-97.6137,37.2739,"13"],[-97.6007,37.2798,"14"],[-97.5989,37.2475,"15"],[-97.5546,37.2364,"16"],[-97.4263,37.2796,"17"],[-97.5719,37.2739,"18"],[-97.5773,37.2159,"19"],[-97.4072,37.3262,"20"],[-97.4118,37.2714,"21"],[-97.3843,37.4298,"22"],[-97.5932,37.2876,"23"],[-97.6025,37.2999,"24"],[-97.5654,37.2739,"25"],[-97.3868,37.4082,"26"],[-97.421,37.2864,"27"],[-97.4096,37.4032,"28"],[-97.5202,37.2394,"29"],[-97.3637,37.415,"30"],[-97.5684,37.3417,"31"],[-97.4624,37.2239,"32"],[-97.3833,37.3782,"33"],[-97.3666,37.4258,"34"],[-97.6281,37.2623,"35"],[-97.5633,37.2388,"36"],[-97.5114,37.3763,"37"]
];

// black fault segments: start lon, start lat, end lon, end lat
const faultSegments = [
[-97.4971,37.3327,-97.4937,37.3301],[-97.4906,37.3279,-97.4863,37.325],[-97.4833,37.3231,-97.4791,37.3203],[-97.4762,37.3184,-97.4715,37.3149],[-97.4686,37.3127,-97.4643,37.3099],[-97.4611,37.308,-97.4593,37.3064],
[-97.5009,37.3225,-97.4953,37.3193],[-97.487,37.3152,-97.4827,37.3165],[-97.5032,37.3014,-97.4996,37.3036],[-97.504,37.2982,-97.5014,37.297],
[-97.5227,37.2787,-97.5164,37.2818],[-97.5151,37.2825,-97.509,37.2853],[-97.5072,37.2859,-97.504,37.2875],
[-97.6118,37.3043,-97.6078,37.3043],[-97.6094,37.2888,-97.5951,37.2938],[-97.609,37.2498,-97.6051,37.2518],[-97.5721,37.2419,-97.5683,37.2443],
[-97.3941,37.4342,-97.3901,37.4333],[-97.3765,37.43,-97.3718,37.4302],[-97.4201,37.4059,-97.4162,37.4075],
[-97.417,37.3296,-97.4131,37.3308],[-97.4353,37.2934,-97.4315,37.2917],[-97.4292,37.2908,-97.4229,37.2884],[-97.4355,37.2849,-97.4315,37.2831]
];

const stations = [
[-97.5521,37.4563],[-97.4704,37.332],[-97.4449,37.3211],[-97.4355,37.3248],[-97.432,37.3237],[-97.432,37.3205],[-97.4352,37.3181],[-97.4263,37.3184],[-97.4432,37.3158],[-97.4415,37.312],[-97.4386,37.312],[-97.4487,37.3126],[-97.4457,37.3102],[-97.4303,37.3143],[-97.4346,37.3076],[-97.45,37.303],[-97.6501,37.284],[-97.5667,37.2853],[-97.5213,37.2585],[-97.5501,37.2188]
];

const studyBox = [[-97.53,37.34],[-97.45,37.34],[-97.45,37.26],[-97.53,37.26],[-97.53,37.34]];
const scaleBar = [[-97.4645,37.1735],[-97.4195,37.1735]];
const stress80 = [[-97.4,37.1707],[-97.3305,37.1893]];
const plane50 = [[-97.3838,37.1571],[-97.3457,37.2053]];
const plane110 = [[-97.3901,37.1867],[-97.3403,37.1733]];
const arrow50 = [[-97.3895,37.1531],[-97.347,37.2064]];
const arrow110 = [[-97.3903,37.1897],[-97.3395,37.1751]];

const titleText = "Seismicity near the Wellington oil field";
const boxLines = ["37 c", "75%", "Clus", "Sma"];

const LATO = "Lato";
const ARROW_BLUE = "#0070C0";

function lineSeries(data: any[], color: string, width: number, z: number, cap = "butt") {
  return {
    type: "line", data, symbol: "none", silent: true, z, animation: false, clip: false,
    lineStyle: { color, width, cap, join: "miter" }, connectNulls: false,
  };
}

function text(x: number, y: number, t: string, size: number, fill = "#000", align = "left") {
  return {
    type: "text", x, y, z: 100, silent: true,
    style: { text: t, fontSize: size, fontFamily: LATO, fill, align, verticalAlign: "middle" },
  };
}

function head(tip: number[], from: number[]) {
  const dx = tip[0] - from[0], dy = tip[1] - from[1];
  const len = Math.hypot(dx, dy);
  const ux = dx / len, uy = dy / len, nx = -uy, ny = ux;
  const L = 60, W = 54, N = 12;
  const bx = tip[0] - ux * L, by = tip[1] - uy * L;
  return {
    type: "polygon", z: 101, silent: true,
    shape: { points: [tip, [bx + nx * W / 2, by + ny * W / 2], [bx + ux * N, by + uy * N], [bx - nx * W / 2, by - ny * W / 2]] },
    style: { fill: ARROW_BLUE },
  };
}

// the crops overlapped, so one event can have been read twice: keep one reading
function withoutRepeats(list: number[][], others: number[][]) {
  const kept: number[][] = [];
  list.forEach((p) => {
    const same = (q: number[]) => Math.abs(q[0] - p[0]) < 0.0005 && Math.abs(q[1] - p[1]) < 0.0006;
    if (!kept.some(same) && !others.some(same)) kept.push(p);
  });
  return kept;
}

export default function App() {
  const ref = useRef<HTMLDivElement>(null);
  useEffect(() => {
    document.body.style.margin = "0";
    const chart = echarts.init(ref.current!, null, { renderer: "svg" });
    const repeated = [...eventsTwice, ...eventsThrice];
    const dots = [...withoutRepeats(eventsOnce, repeated), ...eventsTwice, ...eventsTwice, ...eventsThrice, ...eventsThrice, ...eventsThrice];
    const segData: any[] = [];
    faultSegments.forEach((s) => {
      segData.push([s[0], s[1]], [s[2], s[3]], ["-", "-"]);
    });
    const option: any = {
      animation: false,
      backgroundColor: "#fff",
      grid: { left: 334, right: 259, top: 162, bottom: 205, containLabel: false, outerBoundsMode: "none" },
      xAxis: {
        type: "value", min: lonMin, max: lonMax, interval: 0.05,
        name: "Longitude", nameLocation: "middle", nameGap: 106,
        nameTextStyle: { fontFamily: LATO, fontSize: 98, color: "#000", padding: [0, 0, 0, 64] },
        axisLine: { show: true, onZero: false, lineStyle: { color: "#262626", width: 4 } },
        axisTick: { show: true, inside: true, length: 27, lineStyle: { color: "#262626", width: 4 } },
        axisLabel: { margin: 30, fontSize: 49, fontFamily: "Liberation Sans", color: "#404040", formatter: (v: number) => String(Number(v.toFixed(2))) },
        splitLine: { show: true, lineStyle: { color: "#DDDDDD", width: 3 } },
      },
      yAxis: {
        type: "value", min: latMin, max: latMax, interval: 0.05,
        name: "Latitude", nameLocation: "middle", nameGap: 193, nameRotate: 90,
        nameTextStyle: { fontFamily: LATO, fontSize: 98, color: "#000", padding: [0, 0, 0, 200] },
        axisLine: { show: true, onZero: false, lineStyle: { color: "#262626", width: 4 } },
        axisTick: { show: true, inside: true, length: 27, lineStyle: { color: "#262626", width: 4 }, customValues: latTicks },
        axisLabel: { margin: 21, fontSize: 49, padding: [14, 0, 0, 0], fontFamily: "Liberation Sans", color: "#404040", customValues: latTicks, formatter: (v: number) => String(Number(v.toFixed(2))) },
        splitLine: { show: true, showMaxLine: false, lineStyle: { color: "#DDDDDD", width: 3 } },
      },
      series: [
        {
          type: "scatter", name: "Seismicity", data: dots, symbol: "circle", symbolSize: 15, silent: true, z: 2,
          itemStyle: { color: "#000", opacity: 0.14 },
        },
        ...clusterPoints.map((pts, i) => ({
          type: "scatter", name: "Cluster " + i, data: pts, symbol: "circle", symbolSize: 46, silent: true, z: 3,
          itemStyle: { color: clusterColors[i], opacity: 1 },
        })),
        lineSeries(segData, "#000", 9, 4),
        lineSeries(studyBox, "#000", 10, 5, "square"),
        lineSeries(scaleBar, "#000", 10, 5),
        lineSeries(stress80, "#000", 9, 5),
        lineSeries(plane50, "#0000FF", 9, 5),
        lineSeries(plane110, "#0000FF", 9, 5),
        {
          type: "scatter", name: "Stations", data: stations, symbol: "triangle", symbolSize: [34, 28], silent: true, z: 6,
          itemStyle: { color: "#FF00FF", borderColor: "#000", borderWidth: 4, opacity: 1 },
        },
        {
          type: "scatter", name: "Labels", data: clusterLabels, symbolSize: 0, silent: true, z: 7,
          itemStyle: { opacity: 1 },
          label: {
            show: true, position: "inside", formatter: (p: any) => p.value[2], fontSize: 71, opacity: 1,
            fontFamily: "'Liberation Sans Narrow', 'Liberation Sans'", color: "#000",
          },
        },
      ],
    };
    chart.setOption(option);
    const px = (p: number[]) => chart.convertToPixel({ gridIndex: 0 }, p) as number[];
    const a1 = px(arrow50[0]), a2 = px(arrow50[1]), b1 = px(arrow110[0]), b2 = px(arrow110[1]);
    const shaft = (p: number[], q: number[]) => ({
      type: "line", z: 101, silent: true,
      shape: { x1: p[0], y1: p[1], x2: q[0], y2: q[1] },
      style: { stroke: ARROW_BLUE, lineWidth: 13 },
    });
    const bulletY = [326, 454, 582, 710];
    const textY = [326, 455, 583, 711];
    chart.setOption({
      graphic: {
        elements: [
          text(1744, 83, titleText, 99, "#000", "center"),
          text(2047, 1841, "5 km", 96),
          shaft(a1, a2), shaft(b1, b2),
          head(a1, a2), head(a2, a1), head(b1, b2), head(b2, b1),
          text(2872, 1670, "50", 92, ARROW_BLUE),
          text(2975, 1656, "o", 60, ARROW_BLUE),
          text(2922, 1963, "110", 92, ARROW_BLUE),
          text(3078, 1948, "o", 60, ARROW_BLUE),
          text(3022, 1755, "S", 92),
          text(3071, 1790, "hmax", 66),
          text(3228, 1755, "=80", 92),
          text(3390, 1740, "o", 60),
          {
            type: "rect", z: 100, silent: true,
            shape: { x: 3198, y: 94, width: 400, height: 697 },
            style: { fill: "#fff", stroke: "#000", lineWidth: 3 },
          },
          ...bulletY.map((y) => ({
            type: "ellipse", z: 101, silent: true,
            shape: { cx: 3235, cy: y, rx: 13.5, ry: 13 }, style: { fill: "#000" },
          })),
          ...boxLines.map((t, i) => ({ ...text(3280, textY[i], t, 92), z: 101 })),
        ],
      },
    });
    return () => chart.dispose();
  }, []);
  return <div ref={ref} style={{ width: 3425, height: 2236 }} />;
}
